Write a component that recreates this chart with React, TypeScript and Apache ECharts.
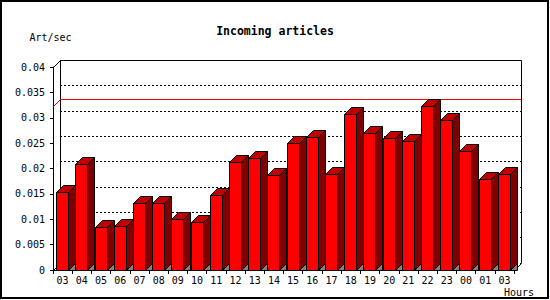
import React, { useEffect, useRef } from "react";
import * as echarts from "echarts";

const hours = ["03", "04", "05", "06", "07", "08", "09", "10", "11", "12", "13", "14", "15", "16", "17", "18", "19", "20", "21", "22", "23", "00", "01", "03"];
const artPerSec = [0.0153, 0.0208, 0.0084, 0.0086, 0.0131, 0.0131, 0.0100, 0.0094, 0.0147, 0.0212, 0.0220, 0.0187, 0.0250, 0.0262, 0.0188, 0.0307, 0.0269, 0.0259, 0.0254, 0.0323, 0.0295, 0.0234, 0.0179, 0.0188];
const yTicks = [0, 0.005, 0.01, 0.015, 0.02, 0.025, 0.03, 0.035, 0.04];

const FONT = "DejaVu Sans Mono";
const DEPTH = 7;
const FRONT = { left: 53, top: 67, width: 461, height: 203 };
const BACK = { left: FRONT.left + DEPTH, top: FRONT.top - DEPTH, width: FRONT.width, height: FRONT.height };

const crisp = (v: number) => Math.floor(v) + 0.5;

export default function App() {
  const ref = useRef<HTMLDivElement>(null);
  useEffect(() => {
    if (!ref.current) return;
    const chart = echarts.init(ref.current, undefined, { renderer: "svg" });
    const peak = Math.max(...artPerSec);
    const yMin = yTicks[0];
    const yMax = yTicks[yTicks.length - 1];
    const yStep = yTicks[1] - yTicks[0];
    chart.setOption({
      animation: false,
      backgroundColor: "#fff",
      title: {
        text: "Incoming articles",
        left: "center",
        top: 20,
        textStyle: { fontFamily: FONT, fontWeight: "bold", fontSize: 11.5, color: "#000" },
      },
      grid: [
        { ...FRONT, containLabel: false },
        { ...BACK, containLabel: false },
      ],
      xAxis: [
        {
          type: "category",
          gridIndex: 0,
          data: hours,
          name: "Hours",
          nameLocation: "end",
          nameGap: 20,
          nameTextStyle: { fontFamily: FONT, fontSize: 10, color: "#000", align: "right", verticalAlign: "top", padding: [17, 0, 0, 0] },
          axisLine: { lineStyle: { color: "#000", width: 1 } },
          axisTick: { show: true, length: 4, lineStyle: { color: "#000" } },
          axisLabel: { interval: 0, fontFamily: FONT, fontSize: 10, color: "#000", margin: 5 },
          splitLine: { show: false },
        },
        {
          type: "category",
          gridIndex: 1,
          data: hours,
          show: false,
        },
      ],
      yAxis: [
        {
          type: "value",
          gridIndex: 0,
          min: yMin,
          max: yMax,
          interval: yStep,
          name: "Art/sec",
          nameLocation: "end",
          nameGap: 25,
          nameTextStyle: { fontFamily: FONT, fontSize: 10, color: "#000", padding: [0, 5, 0, 0] },
          axisLine: { show: true, lineStyle: { color: "#000", width: 1 } },
          axisTick: { show: true, length: 3, lineStyle: { color: "#000" } },
          axisLabel: { fontFamily: FONT, fontSize: 10, color: "#000", margin: 8 },
          splitLine: { show: false },
        },
        {
          type: "value",
          gridIndex: 1,
          min: yMin,
          max: yMax,
          interval: yStep,
          axisLine: { show: false },
          axisTick: { show: false },
          axisLabel: { show: false },
          splitLine: { show: true, lineStyle: { color: "#000", width: 1, type: [2, 2] } },
        },
      ],
      series: [
        {
          type: "custom",
          xAxisIndex: 0,
          yAxisIndex: 0,
          clip: false,
          data: artPerSec.map((v, i) => [i, v]),
          encode: { x: 0, y: 1 },
          renderItem: (params: any, api: any) => {
            const idx = api.value(0);
            const v = api.value(1);
            const base = api.coord([idx, 0]);
            const top = api.coord([idx, v]);
            const bw = Math.round(api.size([1, 0])[0] * 0.6);
            const l = crisp(base[0] - bw / 2);
            const r = l + bw;
            const by = crisp(base[1]);
            const ty = crisp(top[1]);
            const d = DEPTH;
            return {
              type: "group",
              children: [
                { type: "polygon", shape: { points: [[r, by], [r + d, by - d], [r + d, by]] }, style: { fill: "#808080", stroke: "#000", lineWidth: 1 } },
                { type: "polygon", shape: { points: [[r, ty], [r + d, ty - d], [r + d, by - d], [r, by]] }, style: { fill: "#800000", stroke: "#000", lineWidth: 1 } },
                { type: "polygon", shape: { points: [[l, ty], [l + d, ty - d], [r + d, ty - d], [r, ty]] }, style: { fill: "#c00000", stroke: "#000", lineWidth: 1 } },
                { type: "rect", shape: { x: l, y: ty, width: bw, height: by - ty }, style: { fill: "#ff0000", stroke: "#000", lineWidth: 1 } },
              ],
            };
          },
        },
      ],
    });

    const fl = crisp(FRONT.left), ft = crisp(FRONT.top), fr = crisp(FRONT.left + FRONT.width), fb = crisp(FRONT.top + FRONT.height);
    const bl = crisp(BACK.left), bt = crisp(BACK.top), br = crisp(BACK.left + BACK.width), bb = crisp(BACK.top + BACK.height);
    const peakFront = crisp((chart.convertToPixel({ xAxisIndex: 0, yAxisIndex: 0 }, [0, peak]) as number[])[1]);
    const peakBack = crisp((chart.convertToPixel({ xAxisIndex: 1, yAxisIndex: 1 }, [0, peak]) as number[])[1]);
    chart.setOption({
      graphic: [
        { type: "rect", z: 0, shape: { x: 1, y: 1, width: 547, height: 297 }, style: { fill: "none", stroke: "#000", lineWidth: 2 }, silent: true },
        { type: "polyline", z: 1, shape: { points: [[bl, bb], [bl, bt], [br, bt], [br, bb]] }, style: { fill: "none", stroke: "#000", lineWidth: 1 }, silent: true },
        { type: "line", z: 1, shape: { x1: fl, y1: ft, x2: bl, y2: bt }, style: { stroke: "#000", lineWidth: 1 }, silent: true },
        { type: "line", z: 1, shape: { x1: fl, y1: fb, x2: bl, y2: bb }, style: { stroke: "#000", lineWidth: 1 }, silent: true },
        { type: "line", z: 1, shape: { x1: fr, y1: fb, x2: br, y2: bb }, style: { stroke: "#000", lineWidth: 1 }, silent: true },
        { type: "line", z: 1, shape: { x1: fl, y1: peakFront, x2: bl, y2: peakBack }, style: { stroke: "#ff0000", lineWidth: 1 }, silent: true },
        { type: "line", z: 1, shape: { x1: bl, y1: peakBack, x2: br, y2: peakBack }, style: { stroke: "#ff0000", lineWidth: 1 }, silent: true },
      ],
    });
    return () => chart.dispose();
  }, []);
  return <div ref={ref} style={{ position: "fixed", left: 0, top: 0, width: 550, height: 300, background: "#fff" }} />;
}
